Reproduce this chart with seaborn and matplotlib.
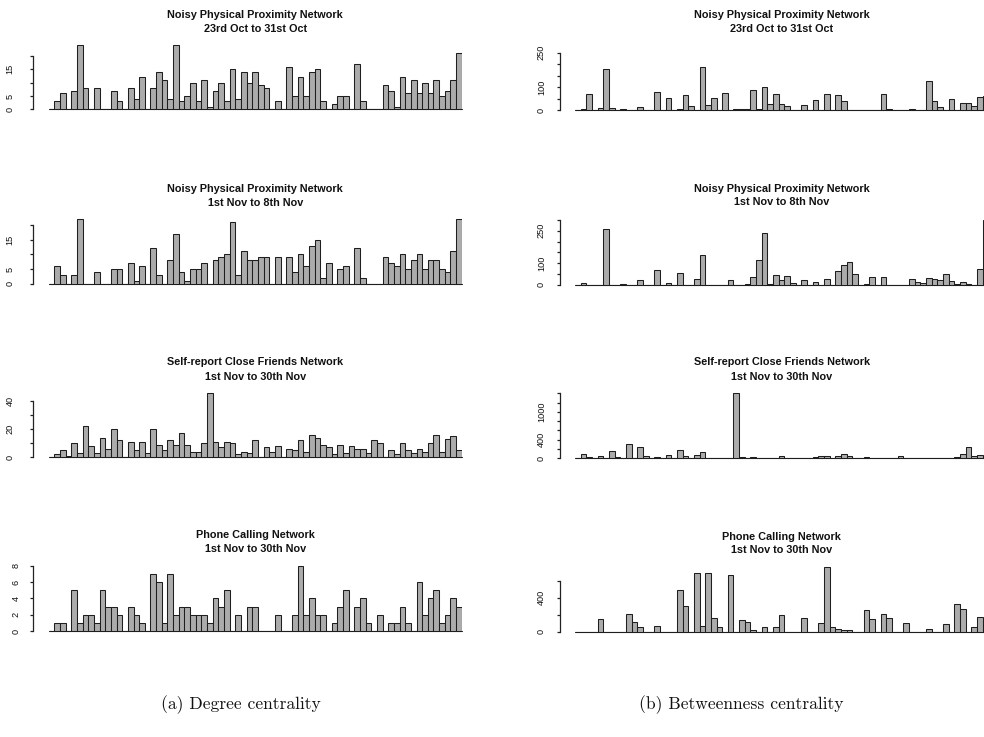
import numpy as np
import pandas as pd
import matplotlib
matplotlib.use("Agg")
import matplotlib.pyplot as plt
import seaborn as sns

# ---------------- data (one value per subject, 73 subjects) ----------------
deg_prox_oct = [0, 3, 6, 0, 7, 24, 8, 0, 8, 0, 0, 7, 3, 0, 8, 4, 12, 0, 8, 14,
                11, 4, 24, 3, 5, 10, 3, 11, 1, 7, 10, 3, 15, 4, 14, 10, 14, 9, 8, 0,
                3, 0, 16, 5, 12, 5, 14, 15, 3, 0, 2, 5, 5, 0, 17, 3, 0, 0, 0, 9,
                7, 1, 12, 6, 11, 6, 10, 6, 11, 5, 7, 11, 21]
deg_prox_nov = [0, 6, 3, 0, 3, 22, 0, 0, 4, 0, 0, 5, 5, 0, 7, 1, 6, 0, 12, 3,
                0, 8, 17, 4, 1, 5, 5, 7, 0, 8, 9, 10, 21, 3, 11, 8, 8, 9, 9, 0,
                9, 0, 9, 4, 10, 6, 13, 15, 2, 7, 0, 5, 6, 0, 12, 2, 0, 0, 0, 9,
                7, 6, 10, 5, 8, 10, 5, 8, 8, 5, 4, 11, 22]
deg_friends = [0, 2, 5, 1, 10, 3, 22, 8, 3, 14, 6, 20, 12, 0, 11, 5, 11, 3, 20, 9,
               5, 12, 9, 17, 9, 4, 4, 10, 46, 11, 7, 11, 10, 2, 4, 3, 12, 0, 7, 4,
               8, 0, 6, 5, 12, 4, 16, 14, 9, 7, 2, 9, 3, 8, 6, 6, 3, 12, 10, 0,
               5, 2, 10, 5, 3, 6, 4, 10, 16, 4, 13, 15, 5]
deg_phone = [0, 1, 1, 0, 5, 1, 2, 2, 1, 5, 3, 3, 2, 0, 3, 2, 1, 0, 7, 6,
             1, 7, 2, 3, 3, 2, 2, 2, 1, 4, 3, 5, 0, 2, 0, 3, 3, 0, 0, 0,
             2, 0, 0, 2, 8, 2, 4, 2, 2, 0, 1, 3, 5, 0, 3, 4, 1, 0, 2, 0,
             1, 1, 3, 1, 0, 6, 2, 4, 5, 1, 2, 4, 3]

btw_prox_oct = [0, 6, 71, 0, 12, 181, 9, 0, 6, 0, 0, 13, 0, 0, 80, 0, 52, 0, 6, 67,
                20, 0, 188, 22, 52, 0, 74, 0, 7, 7, 7, 90, 4, 100, 29, 71, 29, 19, 0, 0,
                22, 0, 43, 0, 70, 0, 67, 41, 0, 0, 0, 2, 0, 0, 71, 6, 0, 0, 0, 4,
                2, 0, 126, 39, 16, 3, 49, 3, 32, 33, 19, 56, 60]
btw_prox_nov = [0, 9, 0, 0, 0, 260, 0, 0, 5, 0, 0, 20, 0, 0, 66, 0, 6, 0, 55, 0,
                0, 25, 137, 0, 0, 0, 0, 20, 0, 0, 3, 35, 114, 238, 3, 46, 20, 40, 9, 0,
                20, 0, 11, 0, 25, 0, 63, 91, 103, 51, 0, 3, 34, 0, 34, 0, 0, 0, 0, 25,
                11, 6, 31, 25, 23, 51, 15, 5, 11, 3, 0, 74, 300]
btw_friends = [0, 86, 29, 0, 57, 0, 157, 36, 0, 315, 0, 251, 43, 0, 21, 0, 72, 0, 172, 43,
               0, 64, 136, 0, 0, 0, 0, 0, 1400, 36, 0, 36, 0, 0, 0, 0, 43, 0, 0, 0,
               0, 0, 29, 50, 43, 0, 50, 86, 43, 0, 0, 21, 0, 0, 0, 0, 0, 57, 0, 0,
               0, 0, 14, 0, 0, 14, 0, 29, 86, 244, 57, 72, 0]
btw_phone = [0, 0, 0, 0, 153, 0, 0, 0, 0, 212, 110, 55, 0, 0, 63, 0, 0, 0, 494, 298,
             0, 686, 63, 694, 161, 55, 0, 670, 0, 133, 110, 24, 0, 51, 0, 51, 200, 0, 0, 0,
             157, 0, 0, 106, 765, 51, 31, 16, 20, 0, 0, 251, 145, 0, 204, 161, 0, 0, 106, 0,
             0, 0, 35, 0, 0, 90, 0, 322, 263, 0, 51, 169, 133]

titles = [("Noisy Physical Proximity Network", "23rd Oct to 31st Oct"),
          ("Noisy Physical Proximity Network", "1st Nov to 8th Nov"),
          ("Self-report Close Friends Network", "1st Nov to 30th Nov"),
          ("Phone Calling Network", "1st Nov to 30th Nov")]

W, H = 984, 737
sns.set_theme(style="white")
plt.rcParams["font.family"] = ["Liberation Sans", "DejaVu Sans"]

fig = plt.figure(figsize=(W / 100, H / 100), dpi=100)

BAR_W_PX = 5.66
N = 73

# (data, x0, baseline_px, tick_top_px, tick_top_val, ytop, ticks, labels, label_pad_pt, title_y1, title_y2)
panels = [
    (deg_prox_oct, 48.6, 109.3, 56.0, 20, 25, [0, 5, 10, 15, 20], ["0", "5", "", "15", ""], 11, 15, 29.3),
    (deg_prox_nov, 48.6, 283.7, 225.0, 20, 23, [0, 5, 10, 15, 20], ["0", "5", "", "15", ""], 11, 189, 202.7),
    (deg_friends, 48.6, 457.3, 401.0, 40, 47, [0, 10, 20, 30, 40], ["0", "", "20", "", "40"], 11, 361.7, 376.7),
    (deg_phone, 48.6, 631.0, 565.7, 8, 8.2, [0, 2, 4, 6, 8], ["0", "2", "4", "6", "8"], 6.5, 535, 549),
    (btw_prox_oct, 575.0, 110.3, 52.7, 250, 260, [0, 50, 100, 150, 200, 250], ["0", "", "100", "", "", "250"], 7.5, 15, 29.3),
    (btw_prox_nov, 575.0, 284.7, 220.0, 300, 310, [0, 50, 100, 150, 200, 250, 300], ["0", "", "100", "", "", "250", ""], 7.5, 189, 201.7),
    (btw_friends, 575.0, 458.3, 393.3, 1400, 1420, list(range(0, 1401, 200)), ["0", "", "400", "", "", "1000", "", ""], 7.5, 362.3, 377.3),
    (btw_phone, 575.0, 631.7, 580.7, 600, 780, [0, 200, 400, 600], ["0", "", "400", ""], 7.5, 536.7, 550),
]

for k, (vals, x0, base, ttop_px, ttop_v, ytop, ticks, labels, lpad, ty1, ty2) in enumerate(panels):
    title = titles[k % 4]
    ppu = (base - ttop_px) / ttop_v
    width_px = N * BAR_W_PX
    ax = fig.add_axes([x0 / W, (H - base) / H, width_px / W, ytop * ppu / H])
    df = pd.DataFrame({"subject": np.arange(N), "value": vals})
    # zero-height bars in the original are drawn as a flat outline (baseline)
    ax.axhline(0, color="#1e1e1e", linewidth=0.8, zorder=1, clip_on=False)
    sns.barplot(data=df, x="subject", y="value", ax=ax, color="#ababab",
                saturation=1, edgecolor="#1e1e1e", linewidth=0.75, width=1.0,
                errorbar=None, zorder=2)
    ax.set_xlim(-0.5, N - 0.5)
    ax.set_ylim(0, ytop)
    ax.set_xlabel("")
    ax.set_ylabel("")
    ax.set_xticks([])
    ax.set_facecolor("none")
    for s in ["top", "right", "bottom"]:
        ax.spines[s].set_visible(False)
    ax.spines["left"].set_visible(True)
    ax.spines["left"].set_color("#222222")
    ax.spines["left"].set_linewidth(0.9)
    ax.spines["left"].set_position(("outward", 11))
    ax.spines["left"].set_bounds(0, ttop_v)
    ax.set_yticks(ticks)
    ax.set_yticklabels(labels, rotation=90, va="center", fontsize=6.6)
    ax.tick_params(axis="y", direction="out", length=2.4, width=0.9,
                   color="#222222", pad=lpad, left=True, labelcolor="#111111")
    cx = (x0 + width_px / 2) / W
    fig.text(cx, 1 - ty1 / H, title[0], ha="center", va="center",
             fontsize=7.8, fontweight="bold", color="#111111")
    fig.text(cx, 1 - ty2 / H, title[1], ha="center", va="center",
             fontsize=7.8, fontweight="bold", color="#111111")

fig.text(240.5 / W, 1 - 705 / H, "(a) Degree centrality", ha="center", va="center",
         fontsize=12.6, family="cmr10", color="#111111")
fig.text(741.5 / W, 1 - 705 / H, "(b) Betweenness centrality", ha="center", va="center",
         fontsize=12.6, family="cmr10", color="#111111")

fig.savefig("out.png", dpi=100, facecolor="white")
